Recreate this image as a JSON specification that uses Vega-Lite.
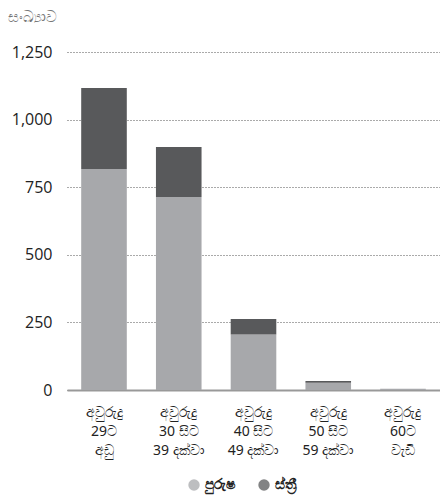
{
  "$schema": "https://vega.github.io/schema/vega-lite/v6.json",
  "autosize": {"type": "none"},
  "width": 373,
  "height": 338,
  "padding": {"left": 67, "top": 52, "right": 0, "bottom": 109},
  "background": "white",
  "data": {
    "values": [
      {"age": "අවුරුදු\n29ට\nඅඩු", "sex": "පුරුෂ", "count": 817},
      {"age": "අවුරුදු\n29ට\nඅඩු", "sex": "ස්ත්‍රී", "count": 300},
      {"age": "අවුරුදු\n30 සිට\n39 දක්වා", "sex": "පුරුෂ", "count": 714},
      {"age": "අවුරුදු\n30 සිට\n39 දක්වා", "sex": "ස්ත්‍රී", "count": 185},
      {"age": "අවුරුදු\n40 සිට\n49 දක්වා", "sex": "පුරුෂ", "count": 205},
      {"age": "අවුරුදු\n40 සිට\n49 දක්වා", "sex": "ස්ත්‍රී", "count": 58},
      {"age": "අවුරුදු\n50 සිට\n59 දක්වා", "sex": "පුරුෂ", "count": 27},
      {"age": "අවුරුදු\n50 සිට\n59 දක්වා", "sex": "ස්ත්‍රී", "count": 6},
      {"age": "අවුරුදු\n60ට\nවැඩි", "sex": "පුරුෂ", "count": 5},
      {"age": "අවුරුදු\n60ට\nවැඩි", "sex": "ස්ත්‍රී", "count": 0}
    ]
  },
  "mark": {"type": "bar"},
  "encoding": {
    "x": {
      "field": "age",
      "type": "nominal",
      "sort": null,
      "scale": {"paddingInner": 0.39, "paddingOuter": 0.19},
      "axis": {
        "title": null,
        "labelAngle": 0,
        "labelExpr": "split(datum.label, '\\n')",
        "labelFont": "Noto Sans",
        "labelFontSize": 14,
        "labelColor": "#222",
        "labelLineHeight": 19,
        "labelPadding": 15,
        "ticks": false,
        "domainColor": "#999",
        "domainWidth": 2
      }
    },
    "y": {
      "field": "count",
      "type": "quantitative",
      "stack": "zero",
      "scale": {"domain": [0, 1250]},
      "axis": {
        "values": [0, 250, 500, 750, 1000, 1250],
        "format": ",.0f",
        "title": "සංඛ්‍යාව",
        "titleAngle": 0,
        "titleAlign": "left",
        "titleBaseline": "alphabetic",
        "titleX": -60,
        "titleY": -31,
        "titleFont": "Noto Sans",
        "titleFontSize": 15,
        "titleFontWeight": "normal",
        "titleColor": "#777",
        "labelFont": "Open Sans",
        "labelFontSize": 16,
        "labelColor": "#222",
        "labelPadding": 15,
        "ticks": false,
        "domain": false,
        "grid": true,
        "gridDash": [1, 2],
        "gridColor": "#555",
        "gridWidth": 1
      }
    },
    "order": {"field": "sex", "sort": "ascending"},
    "color": {
      "field": "sex",
      "type": "nominal",
      "scale": {"domain": ["පුරුෂ", "ස්ත්‍රී"], "range": ["#a7a8ab", "#58595b"]},
      "legend": {
        "title": null,
        "orient": "none",
        "legendX": 120,
        "legendY": 426,
        "direction": "horizontal",
        "symbolType": "circle",
        "symbolSize": 130,
        "symbolOpacity": 0.75,
        "labelFont": "Noto Sans",
        "labelFontSize": 14,
        "labelFontWeight": "bold",
        "labelColor": "#222",
        "columnPadding": 22
      }
    }
  },
  "config": {"view": {"stroke": null}}
}
